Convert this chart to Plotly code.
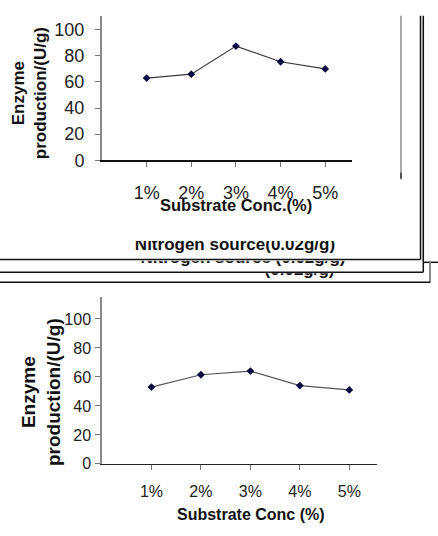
import plotly.graph_objects as go

W, H = 438, 536

categories = ["1%", "2%", "3%", "4%", "5%"]
top_values = [63, 66, 87.5, 75.5, 70]
bottom_values = [53, 61.5, 64, 54, 51]
y_ticks = [0, 20, 40, 60, 80, 100]

title_y = "Enzyme<br>production/(U/g)"
title_x_top = "Substrate Conc.(%)"
title_x_bottom = "Substrate Conc (%)"
frame_text_1 = "Nitrogen source(0.02g/g)"
frame_text_2 = "Nitrogen source (0.02g/g)"

FONT = "Liberation Sans, Arial, sans-serif"


def px(x):
    return x / W


def py(y):
    return 1 - y / H


fig = go.Figure()

fig.add_trace(go.Scatter(x=categories, y=top_values, mode="lines+markers",
                         line=dict(color="#3a3a3a", width=1.2),
                         marker=dict(symbol="diamond", size=6, color="#0a0a40"),
                         xaxis="x", yaxis="y", hoverinfo="skip"))
fig.add_trace(go.Scatter(x=categories, y=bottom_values, mode="lines+markers",
                         line=dict(color="#555555", width=1.2),
                         marker=dict(symbol="diamond", size=6, color="#0a0a40"),
                         xaxis="x2", yaxis="y2", hoverinfo="skip"))

# partially hidden frame captions (clipped to the visible strips)
clips = [
    (frame_text_1, 235, 250.0, (0, 438), (245.5, 264.0)),
    (frame_text_2, 243, 264.0, (0, 438), (265.5, 277.0)),
    (frame_text_2, 232, 275.5, (262, 336), (278.5, 287.0)),
]
for i, (txt, cx, cy, xr, yr) in enumerate(clips):
    n = i + 3
    fig.add_trace(go.Scatter(x=[cx], y=[cy], mode="text", text=[txt],
                             textposition="middle center",
                             textfont=dict(family=FONT, size=17, color="#111111"),
                             texttemplate="<b>%{text}</b>",
                             xaxis=f"x{n}", yaxis=f"y{n}", hoverinfo="skip",
                             cliponaxis=True))
    fig.layout[f"xaxis{n}"] = dict(domain=[px(xr[0]), px(xr[1])], range=list(xr),
                                   visible=False, anchor=f"y{n}", fixedrange=True)
    fig.layout[f"yaxis{n}"] = dict(domain=[py(yr[1]), py(yr[0])], range=[yr[1], yr[0]],
                                   visible=False, anchor=f"x{n}", fixedrange=True)

axis_common = dict(showgrid=False, zeroline=False, showline=True, ticks="outside",
                   ticklen=5, tickcolor="#777777", fixedrange=True)

fig.update_layout(
    width=W, height=H, autosize=False,
    margin=dict(l=0, r=0, t=0, b=0),
    paper_bgcolor="white", plot_bgcolor="white",
    showlegend=False,
    font=dict(family=FONT, color="#222222"),
    xaxis=dict(domain=[px(102), px(352)], type="category", range=[-1.0, 4.6],
               anchor="y", linecolor="#111111", linewidth=1.5,
               tickfont=dict(size=18, color="#222222"), ticklabelstandoff=10,
               **axis_common),
    yaxis=dict(domain=[py(163.3), py(16)], range=[0, 110.8], tickvals=y_ticks,
               anchor="x", linecolor="#8a8a8a", linewidth=2,
               tickfont=dict(size=18, color="#222222"), ticklabelstandoff=7,
               **axis_common),
    xaxis2=dict(domain=[px(102), px(377)], type="category", range=[-1.0, 4.56],
                anchor="y2", linecolor="#222222", linewidth=1.2,
                tickfont=dict(size=16, color="#222222"), ticklabelstandoff=8,
                **axis_common),
    yaxis2=dict(domain=[py(472.7), py(303)], range=[0, 114.9], tickvals=y_ticks,
                anchor="x2", linecolor="#8a8a8a", linewidth=1.5,
                tickfont=dict(size=16, color="#222222"), ticklabelstandoff=1,
                **axis_common),
)

annotations = [
    dict(text=f"<b>{title_y}</b>", x=px(29), y=py(95), textangle=-90,
         font=dict(size=17, color="#111111")),
    dict(text=f"<b>{title_y}</b>", x=px(40.5), y=py(400), textangle=-90,
         font=dict(size=19, color="#111111")),
    dict(text=f"<b>{title_x_top}</b>", x=px(235.5), y=py(209),
         font=dict(size=16.5, color="#111111")),
    dict(text=f"<b>{title_x_bottom}</b>", x=px(251), y=py(524),
         font=dict(size=16, color="#111111")),
]
for a in annotations:
    a.update(xref="paper", yref="paper", showarrow=False,
             xanchor="center", yanchor="middle", font_family=FONT)
fig.update_layout(annotations=annotations)


def seg(x0, y0, x1, y1, color="#111111", width=1.5):
    return dict(type="line", xref="paper", yref="paper",
                x0=px(x0), y0=py(y0), x1=px(x1), y1=py(y1),
                line=dict(color=color, width=width))


shapes = [
    seg(401, 16, 401, 183, "#aaaaaa", 2),
    seg(401, 176, 401, 182, "#333333", 1.5),
    seg(420.5, 16, 420.5, 264.5),
    seg(0, 264.5, 420.5, 264.5),
    seg(422, 20, 422, 265.5, "#bbbbbb", 0.8),
    seg(0, 265.7, 421, 265.7, "#cccccc", 0.8),
    seg(423.3, 16, 423.3, 277.5),
    seg(0, 277.5, 423.3, 277.5),
    seg(423.3, 267.3, 438, 267.3),
    seg(430, 267.3, 430, 288, "#888888", 2),
    seg(0, 287.5, 430, 287.5),
]
fig.update_layout(shapes=shapes)

fig.write_html("out.html")
